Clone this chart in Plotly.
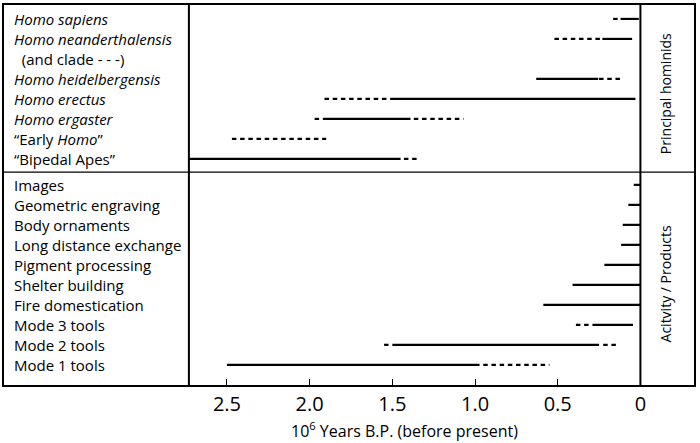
import plotly.graph_objects as go

# ---------------- data ----------------
hominid_labels = [
    "<i>Homo sapiens</i>",
    "<i>Homo neanderthalensis</i>",
    "\u00a0\u00a0(and clade - - -)",
    "<i>Homo heidelbergensis</i>",
    "<i>Homo erectus</i>",
    "<i>Homo ergaster</i>",
    "\u201cEarly <i>Homo</i>\u201d",
    "\u201cBipedal Apes\u201d",
]
# solid ranges (start, end) in million years B.P.
hominid_solid = [(0.12, 0.01), (0.23, 0.05), None, (0.63, 0.255), (1.49, 0.03),
                 (1.92, 1.39), None, (2.73, 1.45)]
# dashed ranges
hominid_dashed = [[(0.165, 0.12)], [(0.52, 0.23)], [], [(0.25, 0.11)], [(1.91, 1.49)],
                  [(1.97, 1.93), (1.37, 1.07)], [(2.47, 1.9)], [(1.43, 1.35)]]

activity_labels = [
    "Images", "Geometric engraving", "Body ornaments", "Long distance exchange",
    "Pigment processing", "Shelter building", "Fire domestication",
    "Mode 3 tools", "Mode 2 tools", "Mode 1 tools",
]
activity_solid = [(0.04, 0), (0.073, 0), (0.107, 0), (0.117, 0), (0.218, 0),
                  (0.41, 0), (0.587, 0), (0.29, 0.045), (1.5, 0.25), (2.5, 1.0)]
activity_dashed = [[], [], [], [], [], [], [], [(0.39, 0.31)],
                   [(1.55, 1.51), (0.225, 0.145)], [(1.0, 0.55)]]

tick_vals = [2.5, 2.0, 1.5, 1.0, 0.5, 0]
tick_text = ["2.5", "2.0", "1.5", "1.0", "0.5", "0"]
x_title = "10<sup>6</sup> Years B.P. (before present)"
group_titles = ["Principal hominids", "Acitvity / Products"]

# ---------------- layout helpers ----------------
GAP = 0.3  # extra row gap between the two groups
hom_y = list(range(len(hominid_labels)))
act_y = [len(hominid_labels) + GAP + j for j in range(len(activity_labels))]
X_LEFT = 2.73   # left edge of the time scale
X_RANGE = [3.848, -0.324]
Y_RANGE = [18.31, -0.697]
divider_y = len(hominid_labels) - 0.34

FONT = "Open Sans"


def build(segs_per_row, ys, is_list):
    xs, yy = [], []
    for segs, y in zip(segs_per_row, ys):
        if not is_list:
            segs = [segs] if segs is not None else []
        for s in segs:
            xs += [s[0], s[1], None]
            yy += [y, y, None]
    return xs, yy


fig = go.Figure()
sx1, sy1 = build(hominid_solid, hom_y, False)
sx2, sy2 = build(activity_solid, act_y, False)
dx1, dy1 = build(hominid_dashed, hom_y, True)
dx2, dy2 = build(activity_dashed, act_y, True)

fig.add_trace(go.Scatter(x=sx1 + sx2, y=sy1 + sy2, mode="lines",
                         line=dict(color="black", width=2.2),
                         hoverinfo="skip", showlegend=False))
fig.add_trace(go.Scatter(x=dx1 + dx2, y=dy1 + dy2, mode="lines",
                         line=dict(color="black", width=2.2, dash="4.5px,3.7px"),
                         hoverinfo="skip", showlegend=False))

annotations = []
for lab, y in zip(hominid_labels + activity_labels, hom_y + act_y):
    annotations.append(dict(text=lab, x=0.0116, xref="paper", y=y, yref="y",
                            xanchor="left", yanchor="middle", showarrow=False,
                            font=dict(family=FONT, size=15, color="black")))
annotations.append(dict(text=group_titles[0], x=0.958, xref="paper", y=3.76, yref="y",
                        textangle=-90, showarrow=False, xanchor="center", yanchor="middle",
                        font=dict(family=FONT, size=14, color="black")))
annotations.append(dict(text=group_titles[1], x=0.958, xref="paper", y=13.28, yref="y",
                        textangle=-90, showarrow=False, xanchor="center", yanchor="middle",
                        font=dict(family=FONT, size=14, color="black")))
annotations.append(dict(text=x_title, x=0.581, xref="paper", y=-0.118, yref="paper",
                        showarrow=False, xanchor="center", yanchor="middle",
                        font=dict(family=FONT, size=16, color="black")))

shapes = [
    dict(type="line", xref="x", yref="paper", x0=X_LEFT, x1=X_LEFT, y0=0, y1=1,
         line=dict(color="black", width=2)),
    dict(type="line", xref="x", yref="paper", x0=0, x1=0, y0=0, y1=1,
         line=dict(color="black", width=2)),
    dict(type="line", xref="paper", yref="y", x0=0, x1=1, y0=divider_y, y1=divider_y,
         line=dict(color="black", width=1.2)),
]

fig.update_layout(
    width=700, height=443,
    margin=dict(l=4, r=6, t=3, b=58),
    plot_bgcolor="white", paper_bgcolor="white",
    annotations=annotations, shapes=shapes,
    xaxis=dict(range=X_RANGE, tickvals=tick_vals, ticktext=tick_text,
               ticks="inside", ticklen=6, tickwidth=1, tickcolor="black",
               showline=True, linecolor="black", linewidth=2, mirror=True,
               showgrid=False, zeroline=False,
               tickfont=dict(family=FONT, size=20, color="black")),
    yaxis=dict(range=Y_RANGE, showticklabels=False, ticks="",
               showline=True, linecolor="black", linewidth=2, mirror=True,
               showgrid=False, zeroline=False),
)

fig.write_html("out.html", config={"displayModeBar": False},
               post_script="document.body.style.margin='0';document.body.style.padding='0';")
